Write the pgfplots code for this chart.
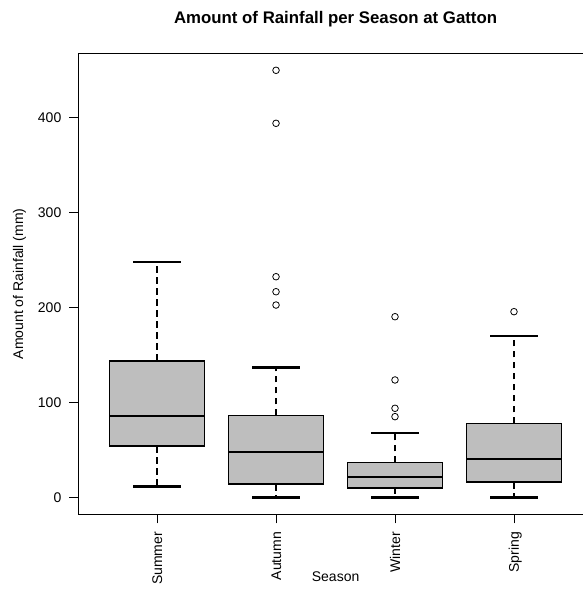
\documentclass[border=0pt]{standalone}
\usepackage{fontspec}
\setmainfont{Liberation Sans}
\usepackage{pgfplots}
\pgfplotsset{compat=1.18}
\usepgfplotslibrary{statistics}
\definecolor{boxgray}{HTML}{BEBEBE}
\begin{document}
\begin{tikzpicture}
\path[use as bounding box] (-78.5bp,-74.6bp) rectangle (504.5bp,514.4bp);
\begin{axis}[
  at={(0,0)}, anchor=south west,
  scale only axis, width=504.5bp, height=461.2bp,
  xmin=0.34, xmax=4.58, ymin=-18, ymax=467.5,
  axis x line*=bottom, axis y line*=left,
  axis line style={line width=0.9bp, black},
  tick align=outside, major tick length=9bp,
  tick style={line width=0.9bp, black},
  xtick={1,2,3,4}, xticklabels={Summer,Autumn,Winter,Spring},
  ytick={0,100,200,300,400},
  /pgf/number format/assume math mode=true,
  tick label style={font=\fontsize{14bp}{17bp}\selectfont},
  xticklabel style={yshift=-8.3bp, rotate=90, anchor=east, text height=10bp, text depth=0pt, inner sep=0pt},
  yticklabel style={xshift=-8bp, anchor=east, inner sep=0pt},
  xlabel={Season}, ylabel={Amount of Rainfall (mm)},
  every axis x label/.style={at={([yshift=-67.3bp]axis description cs:0.5096,0)}, anchor=base, font=\fontsize{14bp}{17bp}\selectfont},
  every axis y label/.style={at={([xshift=-59bp]axis description cs:0,0.5)}, rotate=90, anchor=center, font=\fontsize{14bp}{17bp}\selectfont},
  title={Amount of Rainfall per Season at Gatton},
  every axis title/.style={at={([yshift=29.2bp]axis description cs:0.5096,1)}, anchor=base, font=\fontsize{16.8bp}{20bp}\selectfont\bfseries},
  boxplot/draw direction=y,
  boxplot/box extend=0.8,
  boxplot/whisker extend=0.4,
  boxplot/every box/.style={draw=black, fill=boxgray, line width=1.6bp},
  boxplot/every median/.style={draw=black, line width=1.9bp},
  boxplot/draw/lower whisker/.code={%
    \draw[black, line width=1.3bp, dash pattern=on 6.5bp off 4.5bp]
      (boxplot cs:\pgfplotsboxplotvalue{lower quartile}) -- (boxplot cs:\pgfplotsboxplotvalue{lower whisker});
    \draw[black, line width=2.4bp]
      (boxplot whisker cs:\pgfplotsboxplotvalue{lower whisker},0) -- (boxplot whisker cs:\pgfplotsboxplotvalue{lower whisker},1);
  },
  boxplot/draw/upper whisker/.code={%
    \draw[black, line width=1.3bp, dash pattern=on 6.5bp off 4.5bp]
      (boxplot cs:\pgfplotsboxplotvalue{upper quartile}) -- (boxplot cs:\pgfplotsboxplotvalue{upper whisker});
    \draw[black, line width=2.4bp]
      (boxplot whisker cs:\pgfplotsboxplotvalue{upper whisker},0) -- (boxplot whisker cs:\pgfplotsboxplotvalue{upper whisker},1);
  },
  clip=false,
]
\addplot[black, mark=o, mark size=3.3bp, mark options={line width=0.8bp, solid},
  boxplot prepared={draw position=1, lower whisker=11.2, lower quartile=54, median=85.3, upper quartile=143.5, upper whisker=247.4}]
  coordinates {};
\addplot[black, mark=o, mark size=3.3bp, mark options={line width=0.8bp, solid},
  boxplot prepared={draw position=2, lower whisker=0, lower quartile=14, median=48, upper quartile=86.3, upper whisker=136.8}]
  table[row sep=\\, y index=0] {449.5\\ 393.7\\ 232.2\\ 216.4\\ 202.4\\};
\addplot[black, mark=o, mark size=3.3bp, mark options={line width=0.8bp, solid},
  boxplot prepared={draw position=3, lower whisker=0, lower quartile=10.1, median=21.4, upper quartile=36.8, upper whisker=68}]
  table[row sep=\\, y index=0] {190.1\\ 123.5\\ 93.7\\ 84.9\\};
\addplot[black, mark=o, mark size=3.3bp, mark options={line width=0.8bp, solid},
  boxplot prepared={draw position=4, lower whisker=0, lower quartile=16.1, median=40.7, upper quartile=77.9, upper whisker=169.5}]
  table[row sep=\\, y index=0] {195.4\\};
\draw[line width=0.9bp, black] (rel axis cs:0,1) -- (rel axis cs:1.02,1);
\end{axis}
\end{tikzpicture}
\end{document}
